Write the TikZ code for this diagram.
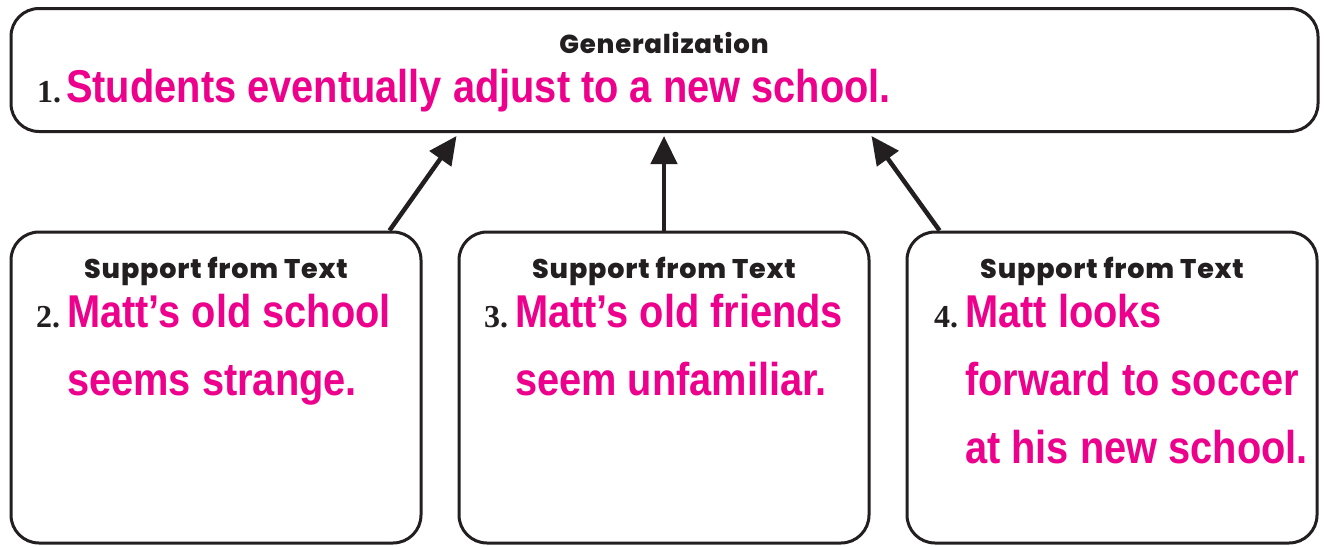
\documentclass[tikz,border=0pt]{standalone}
\usepackage{fontspec}
\setmainfont{Liberation Sans}
\newfontfamily\pinkfont{Liberation Sans}[FakeStretch=0.865]
\newfontfamily\headfont{Poppins ExtraBold}[LetterSpace=3]
\newfontfamily\numfont{Liberation Serif}
\usetikzlibrary{arrows.meta}
\usetikzlibrary{calc}
\definecolor{hotpink}{HTML}{EC008C}
\definecolor{inkblack}{HTML}{231F20}
\tikzset{
  panel/.style={draw=inkblack, line width=3pt, rounded corners=28pt, inner sep=0pt},
  head/.style={anchor=base, inner sep=0pt, text=inkblack, font=\headfont\fontsize{27}{27}\selectfont},
  num/.style={anchor=base west, inner sep=0pt, text=inkblack, font=\numfont\bfseries\fontsize{32}{32}\selectfont},
  claim/.style={anchor=base west, inner sep=0pt, text=hotpink, font=\pinkfont\bfseries\fontsize{46}{46}\selectfont},
  uparrow/.style={draw=inkblack, line width=4.5pt, -{Triangle[length=28pt,width=26pt]}}
}

\begin{document}
\begin{tikzpicture}[x=1pt, y=-1pt]
                      \useasboundingbox (0,0) rectangle (1324,546);
                      \node[panel, minimum width=1307pt, minimum height=123pt] (gen) at (664.5,70) {};
                      \node[panel, minimum width=410pt, minimum height=311pt] (sup1) at (216,387.5) {};
                      \node[panel, minimum width=410pt, minimum height=311pt] (sup2) at (664,387.5) {};
                      \node[panel, minimum width=410pt, minimum height=311pt] (sup3) at (1112,387.5) {};
                      \draw[uparrow] ($(sup1.north east)+(-33,0)$) -- ($(gen.south)+(-208,3)$);
                      \draw[uparrow] (sup2.north) -- ($(sup2.north |- gen.south)+(0,3)$);
                      \draw[uparrow] ($(sup3.north west)+(34,0)$) -- ($(gen.south)+(207,3)$);
                      \node[head, font=\headfont\fontsize{26}{26}\selectfont] (genhead) at (664,53) {Generalization};
                      \node[num] (n1) at (37,102) {1.};
                      \node[claim] (c1) at (66,102) {Students eventually adjust to a new school.};
                      \node[head] (head2) at (216,278) {Support from Text};
                      \node[num] (n2) at (36,327) {2.};
                      \node[claim] (c2a) at (67,327) {Matt’s old school};
                      \node[claim] (c2b) at (67,395) {seems strange.};
                      \node[head] (head3) at (664,278) {Support from Text};
                      \node[num] (n3) at (484,327) {3.};
                      \node[claim] (c3a) at (515,327) {Matt’s old friends};
                      \node[claim] (c3b) at (515,395) {seem unfamiliar.};
                      \node[head] (head4) at (1112,278) {Support from Text};
                      \node[num] (n4) at (934,327) {4.};
                      \node[claim] (c4a) at (965,327) {Matt looks};
                      \node[claim] (c4b) at (965,395) {forward to soccer};
                      \node[claim] (c4c) at (965,463) {at his new school.};
                  \end{tikzpicture}
\end{document}
